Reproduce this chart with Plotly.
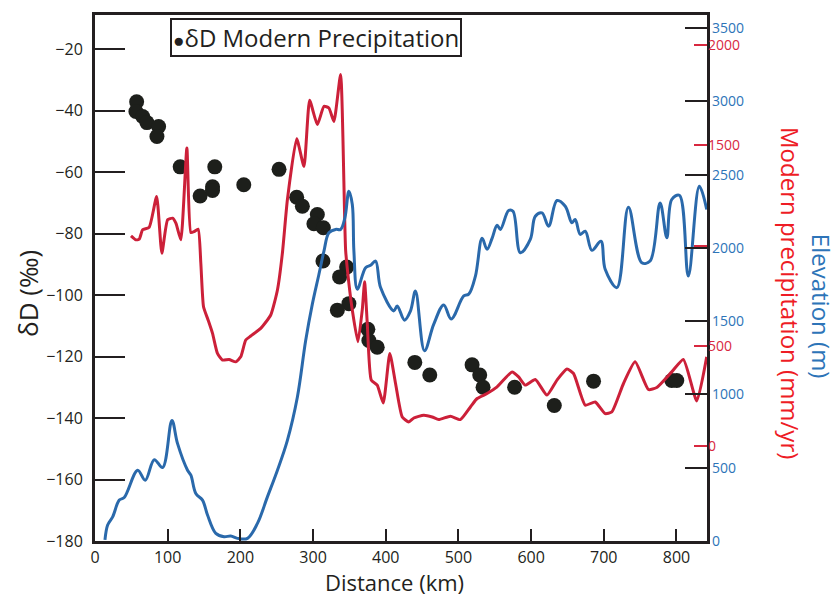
import plotly.graph_objects as go

# --- δD of modern precipitation (‰) along the transect ---
dd_km = [57.3, 56.3, 65.5, 71.4, 87.5, 85.2, 117.2, 144.6, 161.7, 161.7, 164.8,
         204.7, 253.2, 277.5, 285.3, 305.9, 301.2, 314.2, 313.6, 346.2, 336.5,
         349.3, 333.4, 375.4, 376.8, 388.3, 440.0, 460.6, 518.8, 529.3, 533.9,
         577.3, 631.9, 685.9, 793.5, 800.4]
dd_val = [-37.1, -40.3, -41.9, -43.9, -45.2, -48.4, -58.3, -67.8, -64.8, -66.0, -58.3,
          -64.1, -59.1, -68.2, -71.1, -73.8, -76.8, -78.1, -88.9, -90.9, -94.1,
          -102.8, -104.9, -111.1, -114.8, -117.0, -121.9, -126.0, -122.7, -126.0, -130.0,
          -130.0, -135.9, -128.0, -127.8, -127.8]

# --- modern precipitation (mm/yr) ---
pr_km = [49.5, 56.3, 60.9, 65.5, 74.6, 84.8, 92.0, 99.9, 106.7, 111.3, 118.1, 126.4,
         131.9, 136.4, 141.9, 145.6, 149.3, 155.6, 161.7, 168.5, 175.4, 184.5, 193.7,
         200.5, 207.4, 214.3, 228.0, 241.8, 251.0, 257.8, 264.7, 277.5, 287.5, 295.3,
         305.9, 315.0, 321.8, 328.7, 337.9, 344.8, 349.3, 354.0, 361.7, 367.7, 370.9,
         374.6, 380.1, 388.3, 396.6, 405.6, 413.5, 422.7, 431.7, 438.6, 452.3, 463.9,
         472.9, 489.0, 502.7, 516.5, 525.7, 539.4, 553.2, 573.8, 582.8, 592.0, 605.8,
         621.8, 635.6, 649.3, 658.4, 674.5, 688.2, 701.9, 711.1, 727.1, 743.1, 761.4,
         772.9, 793.5, 809.5, 827.9, 841.6]
pr_val = [1049, 1029, 1032, 1079, 1092, 1245, 962, 1129, 1137, 1112, 1029, 1487,
          1065, 1070, 1082, 912, 695, 629, 562, 462, 429, 432, 420,
          445, 529, 549, 587, 654, 779, 962, 1229, 1534, 1395, 1725,
          1604, 1695, 1687, 1620, 1854, 979, 812, 679, 520, 679, 820,
          612, 329, 304, 215, 462, 312, 145, 120, 140, 154, 145,
          132, 149, 132, 195, 237, 262, 295, 370, 345, 304, 332,
          254, 329, 384, 362, 204, 220, 162, 170, 312, 420, 282,
          292, 370, 432, 225, 445]

# --- elevation (m) ---
el_km = [13.7, 17.4, 24.3, 33.4, 40.2, 58.7, 69.1, 81.5, 93.0, 105.8, 113.6, 127.3,
         131.9, 138.7, 147.9, 154.8, 166.2, 177.6, 186.8, 196.0, 209.8, 223.5, 237.2,
         251.0, 264.7, 278.4, 289.8, 299.0, 308.1, 315.0, 321.8, 331.0, 337.9, 343.8,
         349.3, 354.0, 356.2, 360.9, 372.3, 379.1, 386.0, 392.9, 411.1, 415.8, 425.8,
         434.1, 440.9, 453.3, 466.1, 479.8, 490.0, 507.3, 514.2, 523.4, 532.6, 539.4,
         546.3, 553.2, 557.7, 569.1, 575.1, 585.2, 598.9, 605.8, 615.0, 624.1, 635.6,
         647.0, 656.2, 660.7, 667.6, 674.5, 683.7, 696.0, 701.9, 718.0, 733.9, 752.3,
         763.7, 777.5, 786.7, 793.5, 804.0, 816.3, 831.5, 841.6]
el_val = [7, 109, 165, 279, 297, 483, 415, 555, 501, 823, 664, 483,
          449, 324, 279, 177, 52, 29, 34, 18, 18, 120, 301,
          483, 687, 981, 1366, 1616, 1820, 1978, 2103, 2126, 2126, 2205,
          2386, 2296, 1978, 1718, 1865, 1881, 1910, 1729, 1570, 1604, 1507,
          1570, 1706, 1298, 1480, 1611, 1514, 1672, 1684, 1808, 2065, 1990,
          2065, 2155, 2126, 2255, 2250, 1967, 2058, 2216, 2239, 2148, 2323,
          2284, 2171, 2194, 2092, 2114, 1983, 2046, 1854, 1729, 2277, 1899,
          1910, 2307, 2069, 2330, 2359, 1808, 2420, 2262]

# axis ticks
x_ticks = [0, 100, 200, 300, 400, 500, 600, 700, 800]
dd_ticks = [-20, -40, -60, -80, -100, -120, -140, -160, -180]
pr_ticks = [0, 500, 1000, 1500, 2000]
pr_ticktext = ["0", "500", "", "1500", "2000"]
el_ticks = [0, 500, 1000, 1500, 2000, 2500, 3000, 3500]

FONT = "Open Sans"
INK = "#231f20"
RED = "#cc2039"
RED_TXT = "#ee1c25"
RED_TICK = "#d8283f"
BLUE = "#2a69ab"
BLUE_TXT = "#2d74b8"

fig = go.Figure()

fig.add_trace(go.Scatter(
    x=pr_km, y=pr_val, yaxis="y2", mode="lines",
    line=dict(color=RED, width=3, shape="spline", smoothing=0.5),
    showlegend=False, name="Modern precipitation"))

fig.add_trace(go.Scatter(
    x=el_km, y=el_val, yaxis="y3", mode="lines",
    line=dict(color=BLUE, width=3, shape="spline", smoothing=1.0),
    showlegend=False, name="Elevation"))

fig.add_trace(go.Scatter(
    x=dd_km, y=dd_val, yaxis="y", mode="markers",
    marker=dict(color="#1d1f1b", size=15),
    showlegend=False, name="δD Modern Precipitation"))

fig.update_layout(
    width=838, height=600,
    margin=dict(l=95, r=131, t=13, b=59),
    paper_bgcolor="white", plot_bgcolor="white",
    font=dict(family=FONT, color=INK, size=16),
    xaxis=dict(
        range=[0, 842], tickvals=x_ticks, ticks="inside", ticklen=12,
        tickwidth=1.5, tickcolor=INK, showgrid=False, zeroline=False,
        showline=True, linecolor=INK, linewidth=3, mirror=True,
        tickfont=dict(size=16, color=INK)),
    yaxis=dict(
        range=[-180, -8.9], tickvals=dd_ticks, ticks="inside", ticklen=30,
        tickwidth=1.5, tickcolor=INK, showgrid=False, zeroline=False,
        showline=True, linecolor=INK, linewidth=3, mirror=True,
        tickfont=dict(size=16, color=INK), ticklabelstandoff=6),
    yaxis2=dict(
        range=[-474, 2151], overlaying="y", side="right", anchor="x",
        tickvals=pr_ticks, ticktext=pr_ticktext, ticks="inside", ticklen=13,
        tickwidth=1.5, tickcolor=RED_TICK, showgrid=False, zeroline=False,
        showline=False, tickfont=dict(size=14, color=RED_TICK)),
    yaxis3=dict(
        range=[0, 3589], overlaying="y", side="right", anchor="x",
        tickvals=el_ticks, ticks="inside", ticklen=22,
        tickwidth=1.5, tickcolor=INK, showgrid=False, zeroline=False,
        showline=False, tickfont=dict(size=14, color=BLUE_TXT),
        ticklabelstandoff=4),
)

fig.add_annotation(
    text="δD (‰)", xref="paper", yref="paper", x=-0.1095, y=0.4716,
    textangle=-90, showarrow=False, xanchor="center", yanchor="middle",
    font=dict(size=26, color=INK, family=FONT))
fig.add_annotation(
    text="Distance (km)", xref="paper", yref="paper", x=0.4886, y=-0.1108,
    showarrow=False, xanchor="center", yanchor="bottom",
    font=dict(size=22, color=INK, family=FONT))
fig.add_annotation(
    text="Modern precipitation (mm/yr)", xref="paper", yref="paper",
    x=1.1356, y=0.4716, textangle=90, showarrow=False,
    xanchor="center", yanchor="middle",
    font=dict(size=24, color=RED_TXT, family=FONT))
fig.add_annotation(
    text="Elevation (m)", xref="paper", yref="paper",
    x=1.1863, y=0.447, textangle=90, showarrow=False,
    xanchor="center", yanchor="middle",
    font=dict(size=24, color=BLUE_TXT, family=FONT))
fig.add_annotation(
    text="<span style='font-size:19px'>●</span>δD Modern Precipitation",
    xref="paper", yref="paper",
    x=0.3603, y=0.9574, showarrow=False, xanchor="center", yanchor="middle",
    bordercolor=INK, borderwidth=2, borderpad=1, bgcolor="white",
    font=dict(size=24, color=INK, family=FONT))

fig.write_html("out.html")
